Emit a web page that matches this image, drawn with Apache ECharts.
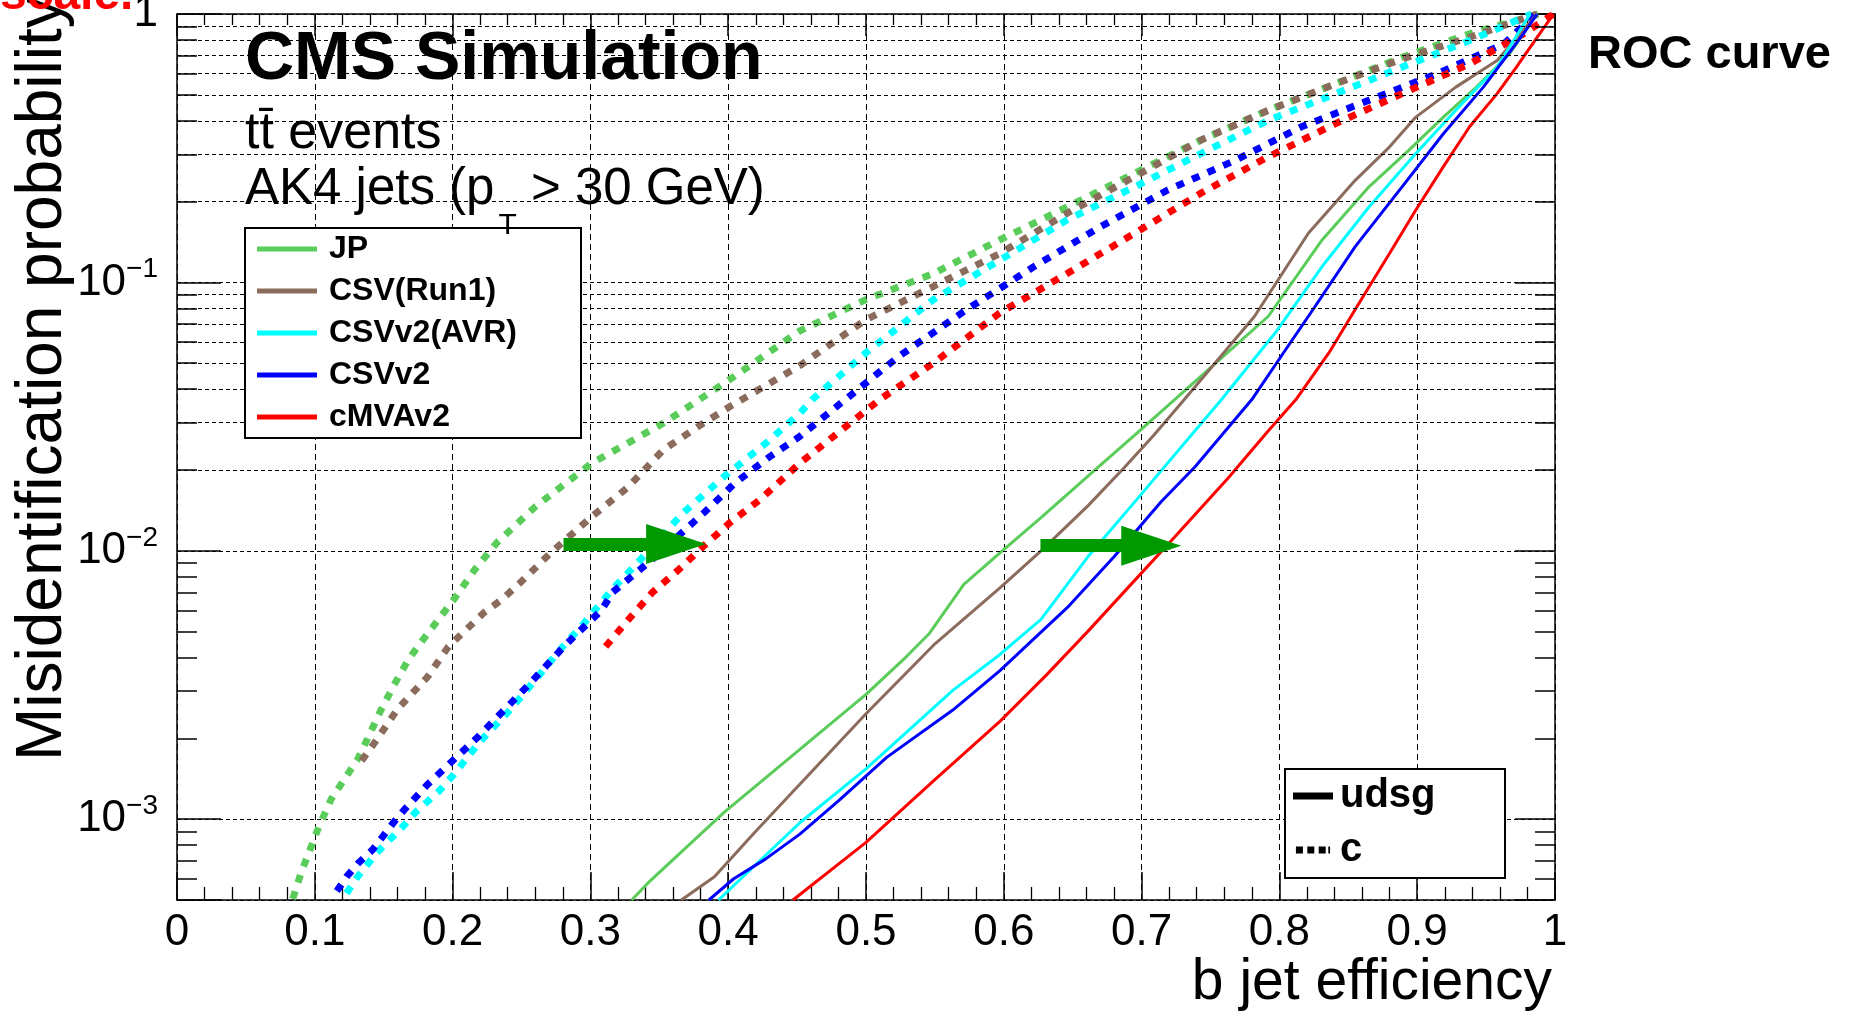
<!DOCTYPE html>
<html><head><meta charset="utf-8">
<script src="https://cdn.jsdelivr.net/npm/echarts@6/dist/echarts.min.js"></script>
<style>html,body{margin:0;padding:0;background:#fff}#c{width:1850px;height:1016px}</style>
</head><body><div id="c"></div>
<script>
const FONT = '"Liberation Sans", Arial, Helvetica, sans-serif';

// ---- data: [b jet efficiency, misidentification probability] ----
const taggers = ['JP', 'CSV(Run1)', 'CSVv2(AVR)', 'CSVv2', 'cMVAv2'];
const tagColors = ['#59cc59', '#8b6c5c', '#00ffff', '#0000ff', '#ff0000'];

// udsg (solid)
const jpUdsg = [[0.330,0.0005],[0.342,0.00058],[0.397,0.00106],[0.452,0.00182],[0.500,0.00292],[0.529,0.00402],[0.546,0.00492],[0.571,0.0075],[0.597,0.0098],[0.627,0.0133],[0.666,0.0200],[0.695,0.0270],[0.724,0.0366],[0.792,0.0748],[0.831,0.144],[0.865,0.227],[0.894,0.311],[0.919,0.413],[0.943,0.534],[0.967,0.71],[0.987,1.0]];
const csvUdsg = [[0.366,0.0005],[0.390,0.00061],[0.419,0.00089],[0.452,0.00135],[0.500,0.00247],[0.549,0.00445],[0.597,0.00726],[0.627,0.0100],[0.661,0.0147],[0.687,0.0203],[0.709,0.0270],[0.731,0.0366],[0.782,0.0748],[0.821,0.1525],[0.855,0.240],[0.880,0.32],[0.899,0.413],[0.928,0.534],[0.958,0.671],[0.987,1.0]];
const avrUdsg = [[0.393,0.0005],[0.452,0.00097],[0.500,0.00154],[0.563,0.00302],[0.597,0.0041],[0.627,0.00555],[0.661,0.0095],[0.700,0.0163],[0.734,0.0262],[0.758,0.0366],[0.797,0.0649],[0.831,0.1146],[0.865,0.191],[0.899,0.302],[0.928,0.438],[0.958,0.634],[0.982,1.0]];
const csvv2Udsg = [[0.386,0.0005],[0.404,0.0006],[0.427,0.00071],[0.452,0.00088],[0.480,0.00117],[0.515,0.0017],[0.563,0.00255],[0.597,0.00357],[0.646,0.00614],[0.680,0.0095],[0.714,0.0152],[0.739,0.0206],[0.780,0.0366],[0.803,0.0547],[0.826,0.0815],[0.855,0.136],[0.889,0.227],[0.919,0.358],[0.948,0.534],[0.977,0.843],[0.987,1.0]];
const cmvaUdsg = [[0.447,0.0005],[0.500,0.00082],[0.549,0.00139],[0.597,0.00231],[0.631,0.00345],[0.661,0.00501],[0.695,0.00776],[0.724,0.01125],[0.763,0.0187],[0.792,0.028],[0.812,0.0366],[0.836,0.0547],[0.855,0.0792],[0.880,0.1285],[0.899,0.186],[0.919,0.27],[0.938,0.38],[0.958,0.505],[0.972,0.634],[0.987,0.819],[0.999,1.0]];

// c (dotted)
const jpC = [[0.084,0.000505],[0.090,0.00063],[0.103,0.00094],[0.112,0.00119],[0.131,0.00167],[0.138,0.00198],[0.147,0.00249],[0.157,0.00313],[0.168,0.00394],[0.179,0.0047],[0.201,0.0066],[0.216,0.0085],[0.232,0.0107],[0.260,0.0146],[0.301,0.0212],[0.353,0.0299],[0.401,0.0434],[0.452,0.0660],[0.500,0.0863],[0.549,0.108],[0.597,0.144],[0.646,0.191],[0.695,0.255],[0.743,0.339],[0.792,0.438],[0.841,0.55],[0.889,0.69],[0.938,0.843],[0.988,1.0]];
const csvC = [[0.134,0.00165],[0.145,0.00198],[0.160,0.00257],[0.182,0.0034],[0.197,0.0044],[0.223,0.0059],[0.236,0.0066],[0.249,0.0076],[0.271,0.0098],[0.301,0.0134],[0.327,0.0172],[0.353,0.0238],[0.382,0.0299],[0.401,0.0344],[0.452,0.0490],[0.500,0.0727],[0.549,0.0967],[0.597,0.128],[0.646,0.181],[0.695,0.248],[0.743,0.339],[0.792,0.438],[0.841,0.55],[0.889,0.68],[0.938,0.819],[0.987,1.0]];
const avrC = [[0.123,0.00053],[0.131,0.00061],[0.145,0.00075],[0.164,0.00094],[0.173,0.00106],[0.190,0.00127],[0.201,0.00147],[0.220,0.00195],[0.240,0.0025],[0.260,0.0033],[0.280,0.0044],[0.293,0.0052],[0.316,0.0072],[0.334,0.0090],[0.367,0.0138],[0.397,0.0189],[0.427,0.0251],[0.452,0.0325],[0.461,0.0366],[0.500,0.0547],[0.549,0.0863],[0.597,0.121],[0.646,0.171],[0.695,0.227],[0.743,0.302],[0.792,0.402],[0.841,0.505],[0.889,0.634],[0.938,0.796],[0.983,1.0]];
const csvv2C = [[0.116,0.00054],[0.123,0.00061],[0.132,0.00069],[0.142,0.00077],[0.157,0.00097],[0.166,0.0011],[0.182,0.00135],[0.201,0.00167],[0.219,0.00204],[0.238,0.00257],[0.256,0.0032],[0.279,0.0043],[0.290,0.0049],[0.308,0.0060],[0.316,0.0070],[0.345,0.0093],[0.382,0.0138],[0.405,0.0179],[0.430,0.0224],[0.452,0.0267],[0.485,0.0366],[0.524,0.0531],[0.573,0.0792],[0.622,0.1146],[0.670,0.161],[0.719,0.221],[0.768,0.285],[0.816,0.38],[0.865,0.477],[0.914,0.598],[0.963,0.774],[0.986,1.0]];
const cmvaC = [[0.311,0.0044],[0.327,0.0055],[0.345,0.0070],[0.364,0.0085],[0.382,0.0104],[0.401,0.0127],[0.423,0.0155],[0.452,0.0212],[0.510,0.0366],[0.549,0.0501],[0.597,0.0769],[0.646,0.108],[0.695,0.1525],[0.743,0.215],[0.792,0.294],[0.841,0.391],[0.889,0.505],[0.938,0.652],[0.977,0.843],[0.999,1.0]];

const udsgCurves = [jpUdsg, csvUdsg, avrUdsg, csvv2Udsg, cmvaUdsg];
const cCurves = [jpC, csvC, avrC, csvv2C, cmvaC];

// annotation arrows: start, tip (b eff) and level (misid)
const arrowFrom = [0.2805, 0.6266];
const arrowTip = [0.384, 0.7288];
const arrowLevel = [0.0106, 0.01045];

// axis ticks
const xTickLabels = ['0','0.1','0.2','0.3','0.4','0.5','0.6','0.7','0.8','0.9','1'];
const yMin = 0.0005, yMax = 1;
const yMinor = [];
for (let e = -4; e <= -1; e++) for (let m = 2; m <= 9; m++) {
  const v = +(m * Math.pow(10, e)).toPrecision(6);
  if (v > yMin && v < yMax) yMinor.push(v);
}

// ---- chart ----
const chart = echarts.init(document.getElementById('c'), null, {renderer: 'canvas', width: 1850, height: 1016});

const TICKX = 0.0145;   // minor y-tick length in b-eff units (~20px)
const HEADHALF = 0.0218; // half arrow-head length (~30px)

function yFmt(v) {
  const l = Math.log10(v), e = Math.round(l);
  if (Math.abs(l - e) > 1e-6) return '';
  if (e === 0) return '{m|1}';
  return '{m|10}{s|\u2212' + (-e) + '}';
}

const series = [];
series.push({
  type: 'line', name: '_grid', data: [], z: 1, silent: true,
  markLine: {
    silent: true, symbol: 'none', label: {show: false}, animation: false,
    lineStyle: {color: '#000', width: 1, type: [4, 3], opacity: 1},
    emphasis: {disabled: true},
    data: yMinor.map(v => ({yAxis: v}))
  }
});
series.push({
  type: 'line', name: '_ticks', data: [], z: 1, silent: true,
  markLine: {
    silent: true, symbol: 'none', label: {show: false}, animation: false,
    lineStyle: {color: '#000', width: 1.5, type: 'solid', opacity: 1},
    emphasis: {disabled: true},
    data: yMinor.map(v => [{coord: [0, v]}, {coord: [TICKX, v]}])
      .concat(yMinor.map(v => [{coord: [1, v]}, {coord: [1 - TICKX, v]}]))
  }
});
cCurves.forEach((d, i) => series.push({
  type: 'line', name: taggers[i] + ' c', data: d, z: 3,
  showSymbol: false, symbol: 'none', silent: true,
  lineStyle: {color: tagColors[i], width: 7, type: [8, 9]},
  itemStyle: {color: tagColors[i]}, emphasis: {disabled: true}
}));
udsgCurves.forEach((d, i) => series.push({
  type: 'line', name: taggers[i], data: d, z: 4,
  showSymbol: false, symbol: 'none', silent: true,
  lineStyle: {color: tagColors[i], width: 3, type: 'solid'},
  itemStyle: {color: tagColors[i]}, emphasis: {disabled: true}
}));
series.push({type: 'line', name: 'udsg', data: [], itemStyle: {color: '#000'}, lineStyle: {color: '#000'}});
series.push({type: 'line', name: 'c', data: [], itemStyle: {color: '#000'}, lineStyle: {color: '#000'}});
series.push({
  type: 'line', name: '_arrows', data: [], z: 6, silent: true,
  markLine: {
    silent: true, animation: false, label: {show: false},
    symbol: 'none',
    lineStyle: {color: '#009900', width: 13, type: 'solid', opacity: 1},
    emphasis: {disabled: true},
    data: arrowFrom.map((x0, i) => [{coord: [x0, arrowLevel[i]]}, {coord: [arrowTip[i] - HEADHALF, arrowLevel[i]]}])
  },
  markPoint: {
    silent: true, animation: false, label: {show: false},
    symbol: 'triangle', symbolSize: [40, 60], symbolRotate: -90,
    itemStyle: {color: '#009900', borderWidth: 0},
    emphasis: {disabled: true},
    data: arrowTip.map((t, i) => ({coord: [t - HEADHALF, arrowLevel[i]]}))
  }
});

const axisLineStyle = {color: '#000', width: 1.5};

const option = {
  animation: false,
  backgroundColor: '#fff',
  textStyle: {fontFamily: FONT},
  grid: {left: 177, right: 295, top: 14, bottom: 116, containLabel: false, outerBoundsMode: 'none'},
  xAxis: [{
    type: 'value', min: 0, max: 1, interval: 0.1, position: 'bottom',
    axisLine: {show: true, onZero: false, lineStyle: axisLineStyle},
    axisTick: {show: true, inside: true, length: 28, lineStyle: axisLineStyle},
    minorTick: {show: true, splitNumber: 5, length: 13, lineStyle: {color: '#000', width: 1.3}},
    axisLabel: {
      show: true, margin: 11, color: '#000', fontSize: 44, fontFamily: FONT,
      showMinLabel: true, showMaxLabel: true,
      formatter: v => xTickLabels[Math.round(v * 10)]
    },
    splitLine: {show: true, lineStyle: {color: '#000', width: 1, type: [6, 4]}},
    minorSplitLine: {show: false}
  }, {
    type: 'value', min: 0, max: 1, interval: 0.1, position: 'top',
    axisLine: {show: true, onZero: false, lineStyle: axisLineStyle},
    axisTick: {show: true, inside: true, length: 22, lineStyle: axisLineStyle},
    minorTick: {show: true, splitNumber: 5, length: 11, lineStyle: {color: '#000', width: 1.3}},
    axisLabel: {show: false}, splitLine: {show: false}
  }],
  yAxis: [{
    type: 'log', logBase: 10, min: yMin, max: yMax, position: 'left',
    axisLine: {show: true, onZero: false, lineStyle: axisLineStyle},
    axisTick: {show: true, inside: true, length: 44, lineStyle: axisLineStyle},
    axisLabel: {
      show: true, margin: 19, color: '#000', fontFamily: FONT,
      showMinLabel: true, showMaxLabel: true,
      formatter: yFmt,
      rich: {
        m: {fontSize: 44, fontFamily: FONT, color: '#000'},
        s: {fontSize: 28, fontFamily: FONT, color: '#000', padding: [0, 0, 26, 0]}
      }
    },
    splitLine: {show: true, lineStyle: {color: '#000', width: 1, type: [4, 3]}},
    minorTick: {show: false}
  }, {
    type: 'log', logBase: 10, min: yMin, max: yMax, position: 'right',
    axisLine: {show: true, onZero: false, lineStyle: axisLineStyle},
    axisTick: {show: true, inside: true, length: 40, lineStyle: axisLineStyle},
    axisLabel: {show: false}, splitLine: {show: false}
  }],
  legend: [{
    show: true, orient: 'vertical', left: 257, top: 233, padding: 0,
    itemWidth: 60, itemHeight: 5, itemGap: 10, icon: 'rect', selectedMode: false, z: 20,
    itemStyle: {borderWidth: 0},
    textStyle: {fontFamily: FONT, fontWeight: 'bold', fontSize: 32, lineHeight: 32, color: '#000', padding: [0, 0, 0, 7]},
    data: taggers
  }, {
    show: true, orient: 'vertical', left: 1293, top: 776, padding: 0,
    itemWidth: 40, itemHeight: 7, itemGap: 14, selectedMode: false, z: 20,
    itemStyle: {borderWidth: 0},
    textStyle: {fontFamily: FONT, fontWeight: 'bold', fontSize: 40, lineHeight: 40, color: '#000', padding: [0, 0, 0, 2]},
    data: [
      {name: 'udsg', icon: 'rect'},
      {name: 'c', icon: 'path://M0,0h8v8h-8zM13,0h8v8h-8zM26,0h8v8h-8zM37,0h2v8h-2z'}
    ]
  }],
  graphic: [
    {type: 'rect', z: 10, shape: {x: 245, y: 228, width: 336, height: 210}, style: {fill: '#fff', stroke: '#000', lineWidth: 2}},
    {type: 'rect', z: 10, shape: {x: 1285, y: 769, width: 220, height: 109}, style: {fill: '#fff', stroke: '#000', lineWidth: 2}},
    {type: 'text', z: 12, x: 245, y: 60, style: {text: 'CMS Simulation', fontFamily: FONT, fontWeight: 'bold', fontSize: 68, fill: '#000', align: 'left', verticalAlign: 'middle'}},
    {type: 'text', z: 12, x: 245, y: 134, style: {text: 'tt\u0304 events', fontFamily: FONT, fontSize: 52, fill: '#000', align: 'left', verticalAlign: 'middle'}},
    {type: 'text', z: 12, x: 245, y: 190, style: {
      text: 'AK4 jets (p{t|T} > 30 GeV)', fontFamily: FONT, fontSize: 51, fill: '#000', align: 'left', verticalAlign: 'middle',
      rich: {t: {fontFamily: FONT, fontSize: 30, fill: '#000', padding: [72, 0, 0, 4]}}
    }},
    {type: 'text', z: 12, x: 1588, y: 55.5, style: {text: 'ROC curve', fontFamily: FONT, fontWeight: 'bold', fontSize: 47, fill: '#000', align: 'left', verticalAlign: 'middle'}},
    {type: 'text', z: 12, x: 1552, y: 983, style: {text: 'b jet efficiency', fontFamily: FONT, fontSize: 57, fill: '#000', align: 'right', verticalAlign: 'middle'}},
    {type: 'text', z: 12, x: 43, y: 761, rotation: Math.PI / 2, style: {text: 'Misidentification probability', fontFamily: FONT, fontSize: 64, fill: '#000', align: 'left', verticalAlign: 'middle'}},
    {type: 'text', z: 12, x: 0, y: -4.6, style: {text: 'scale.', fontFamily: FONT, fontWeight: 'bold', fontSize: 48, fill: '#ff0000', align: 'left', verticalAlign: 'middle'}}
  ],
  series: series
};
chart.setOption(option);
</script>
</body></html>
